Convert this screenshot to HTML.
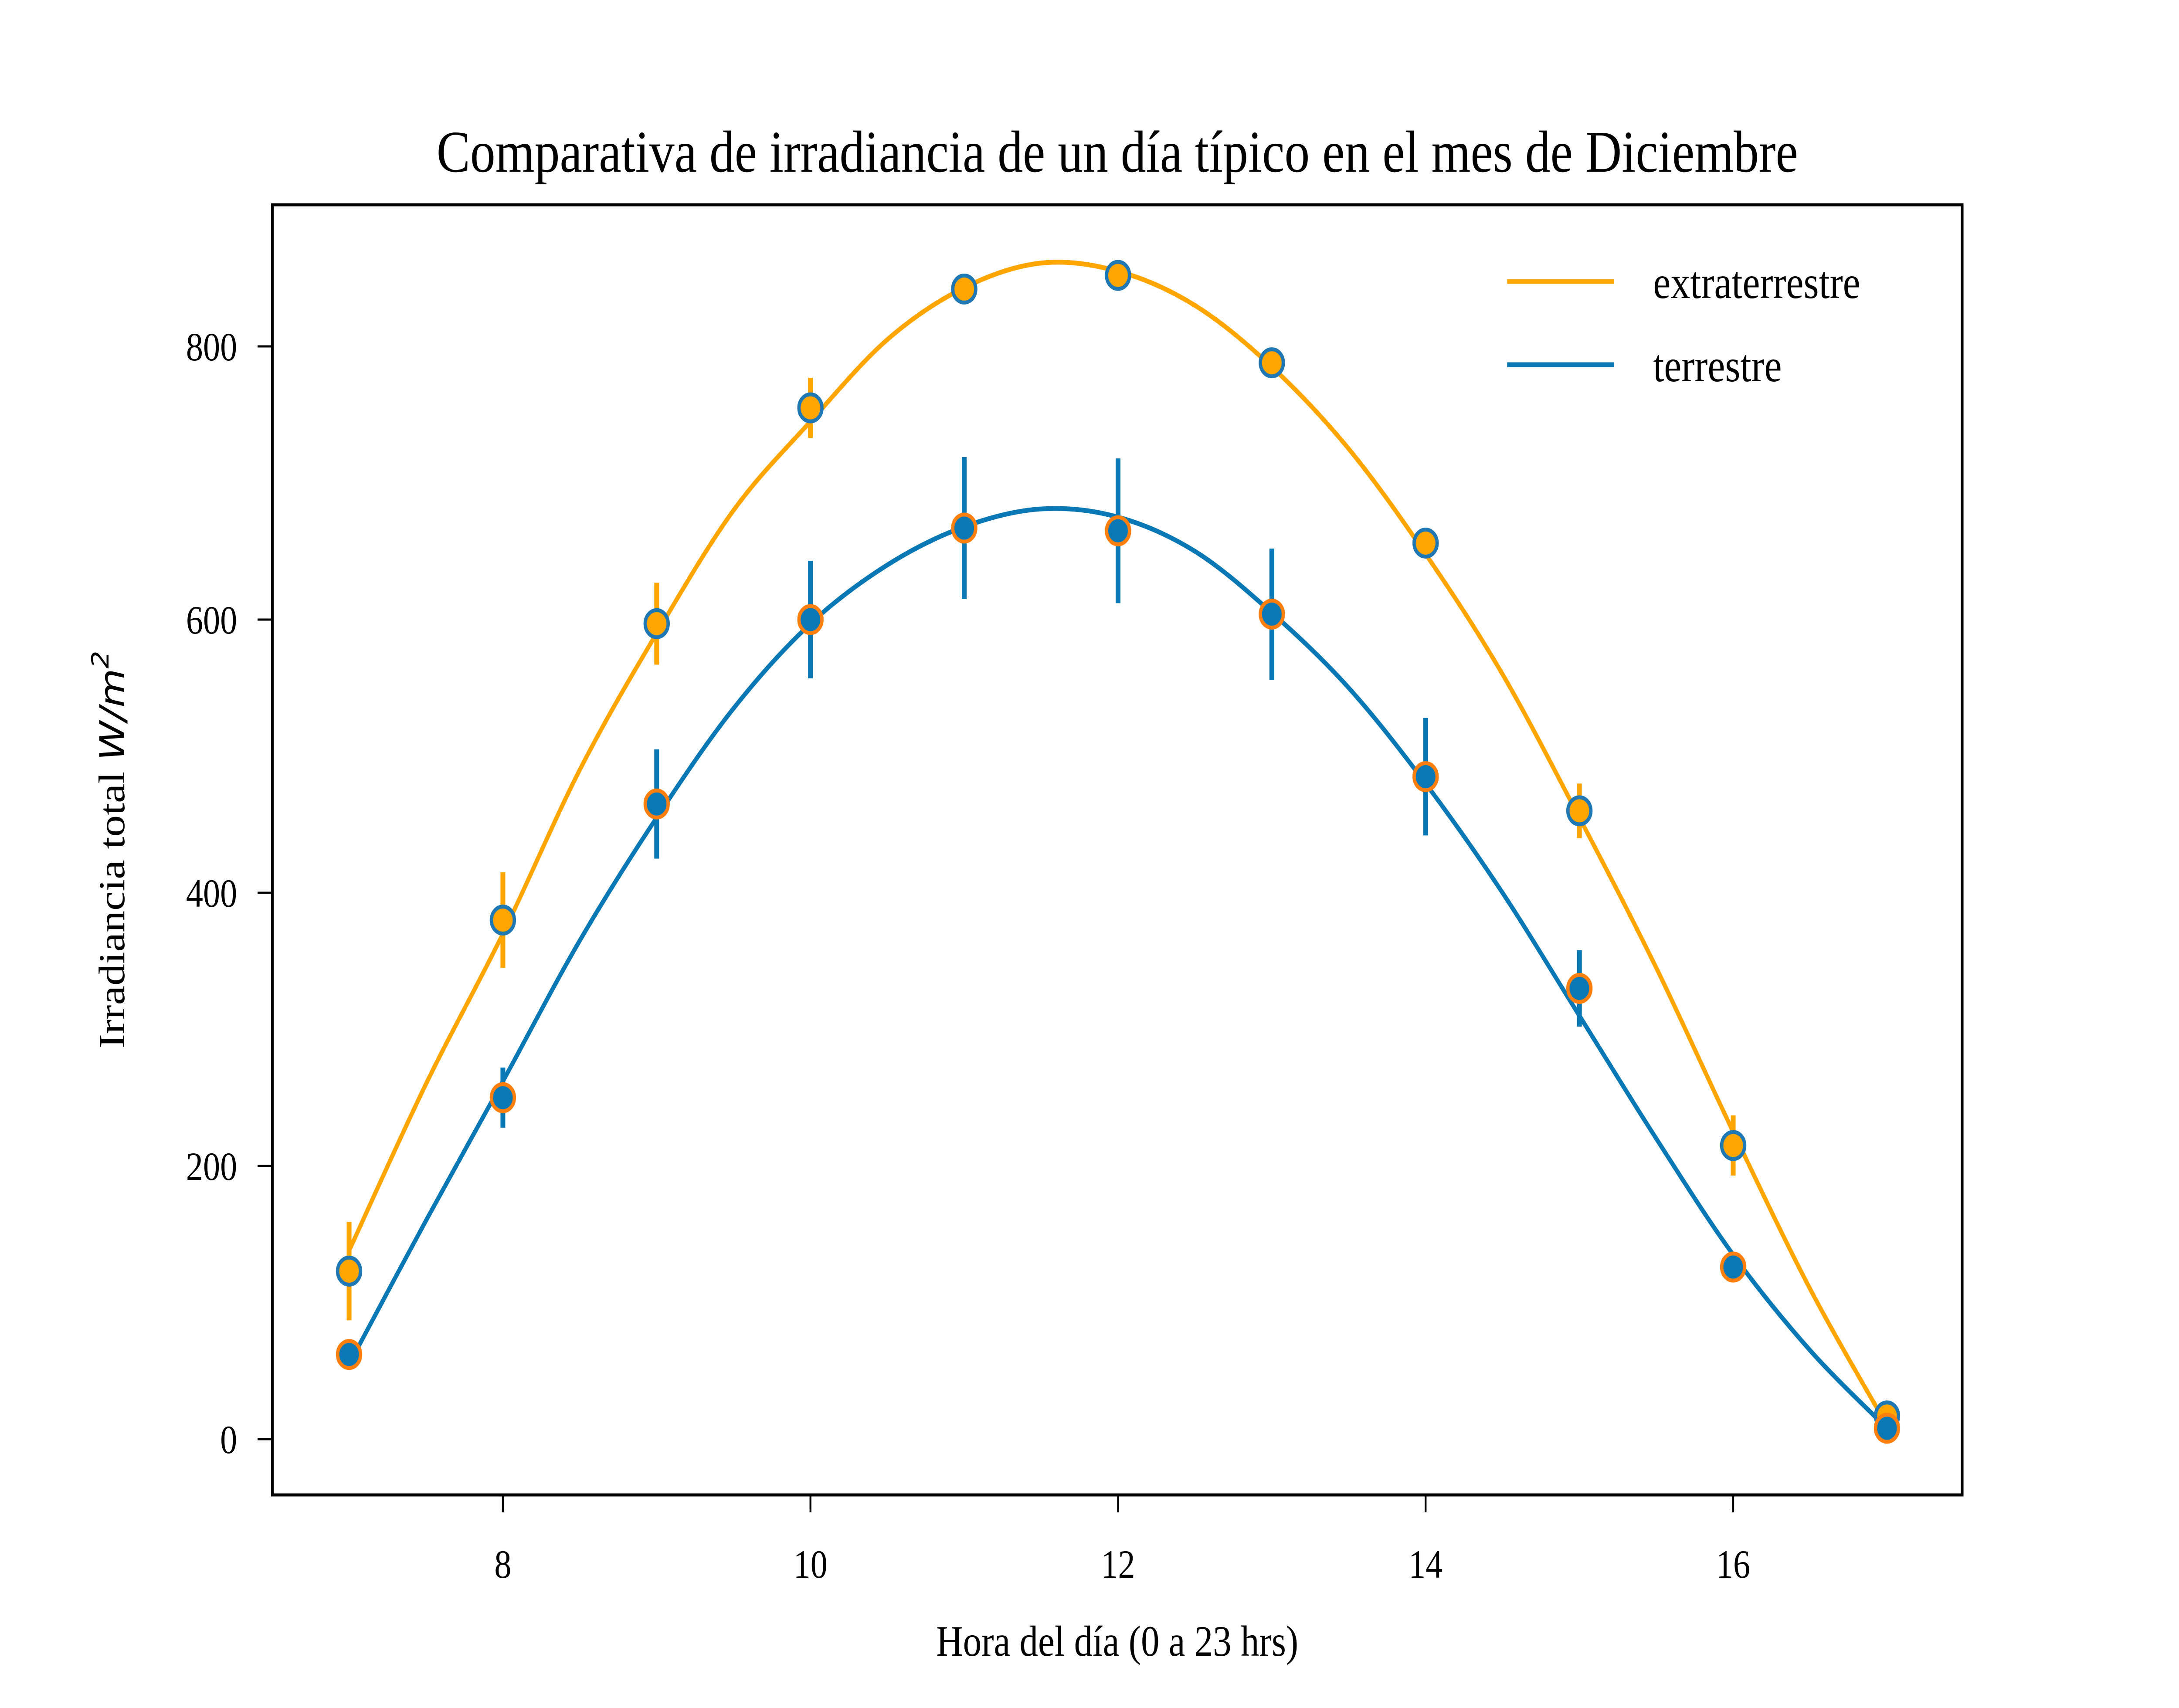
<!DOCTYPE html>
<html><head><meta charset="utf-8"><style>html,body{margin:0;padding:0;background:#fff;overflow:hidden}svg{display:block;width:100vw;height:100vh}</style></head>
<body>
<svg id="chart" width="5880" height="3920" viewBox="0 0 5880 3920" preserveAspectRatio="none" xmlns="http://www.w3.org/2000/svg" font-family="'Liberation Serif', serif">
<rect width="5880" height="3920" fill="#fff"/>
<text x="3015" y="394" font-size="136" text-anchor="middle">Comparativa de irradiancia de un día típico en el mes de Diciembre</text>
<g id="plot"></g>
<rect x="735" y="470" width="4560" height="2961" fill="none" stroke="#000" stroke-width="7"/>
<text x="3015" y="3800" font-size="100" text-anchor="middle">Hora del día (0 a 23 hrs)</text>
<text transform="translate(335,1950) rotate(-90)" font-size="100" text-anchor="middle">Irradiancia total <tspan font-family="'DejaVu Sans', sans-serif" font-style="italic" font-size="92">W/m</tspan><tspan font-family="'DejaVu Sans', sans-serif" font-style="italic" font-size="64" dy="-42">2</tspan></text>
<g>
<line x1="4067" y1="646" x2="4356" y2="646" stroke="#FFA500" stroke-width="11"/>
<text x="4461" y="684" font-size="106">extraterrestre</text>
<line x1="4067" y1="837" x2="4356" y2="837" stroke="#0a78b4" stroke-width="11"/>
<text x="4461" y="875" font-size="106">terrestre</text>
</g>
</svg>
<script>
const hours = [7,8,9,10,11,12,13,14,15,16,17];
const extraValues = [123,380,597,755,842,852,788,656,460,215,17];
const extraErrors = [36,35,30,22,8,8,8,8,20,22,8];
const terraValues = [62,250,465,600,667,665,604,485,330,126,8];
const terraErrors = [10,22,40,43,52,53,48,43,28,8,5];
const fitHours = [7,7.5,8,8.5,9,9.5,10,10.5,11,11.5,12,12.5,13,13.5,14,14.5,15,15.5,16,16.5,17];
const extraFit = [138,260,370,490,590,680,745,805,843,861,855,830,785,725,648,560,455,345,225,110,10];
const terraFit = [55,160,262,365,455,535,597,640,668,681,675,650,605,550,480,400,310,220,135,65,8];
const xTicks = [8,10,12,14,16];
const yTicks = [0,200,400,600,800];

const NS = 'http://www.w3.org/2000/svg';
const svg = document.getElementById('chart');
const plot = document.getElementById('plot');
const X = h => 1357 + (h - 8) * 415;
const Y = v => 3303 - v * (627 / 200);
function mk(tag, attrs, parent) {
  const e = document.createElementNS(NS, tag);
  for (const k in attrs) e.setAttribute(k, attrs[k]);
  (parent || plot).appendChild(e);
  return e;
}
xTicks.forEach(t => {
  const l = mk('line', {x1: X(t), x2: X(t), y1: 3431, y2: 3471, stroke: '#000', 'stroke-width': 5}, svg);
  
  
  const tx = mk('text', {x: X(t), y: 3621, 'font-size': 92, 'text-anchor': 'middle'}, svg);
  tx.textContent = t;
  
  
});
yTicks.forEach(t => {
  const l = mk('line', {x1: 695, x2: 735, y1: Y(t), y2: Y(t), stroke: '#000', 'stroke-width': 5}, svg);
  
  
  const tx = mk('text', {x: 640, y: Y(t) + 32, 'font-size': 92, 'text-anchor': 'end'}, svg);
  tx.textContent = t;
  
  
});
function smooth(xs, ys) {
  const p = xs.map((h, i) => [X(h), Y(ys[i])]);
  let d = 'M' + p[0][0] + ',' + p[0][1];
  for (let i = 0; i < p.length - 1; i++) {
    const p0 = p[i - 1] || p[i], p1 = p[i], p2 = p[i + 1], p3 = p[i + 2] || p2;
    const c1 = [p1[0] + (p2[0] - p0[0]) / 6, p1[1] + (p2[1] - p0[1]) / 6];
    const c2 = [p2[0] - (p3[0] - p1[0]) / 6, p2[1] - (p3[1] - p1[1]) / 6];
    d += 'C' + c1 + ' ' + c2 + ' ' + p2;
  }
  return d;
}
function lines(name, vals, errs, fit, lineColor) {
  hours.forEach((h, i) => {
    const e = mk('line', {x1: X(h), x2: X(h), y1: Y(vals[i] - errs[i]), y2: Y(vals[i] + errs[i]), stroke: lineColor, 'stroke-width': 13});
    
    
  });
  const path = mk('path', {d: smooth(fitHours, fit), fill: 'none', stroke: lineColor, 'stroke-width': 11});
  
  
}
function markers(name, vals, fill, edge) {
  hours.forEach((h, i) => {
    const c = mk('circle', {cx: X(h), cy: Y(vals[i]), r: 31, fill: fill, stroke: edge, 'stroke-width': 9});
    
    
  });
}
lines('terrestre', terraValues, terraErrors, terraFit, '#0a78b4');
lines('extraterrestre', extraValues, extraErrors, extraFit, '#FFA500');
markers('extraterrestre', extraValues, '#FFA500', '#1f77b4');
markers('terrestre', terraValues, '#0a78b4', '#ff7f0e');
</script>
</body></html>
